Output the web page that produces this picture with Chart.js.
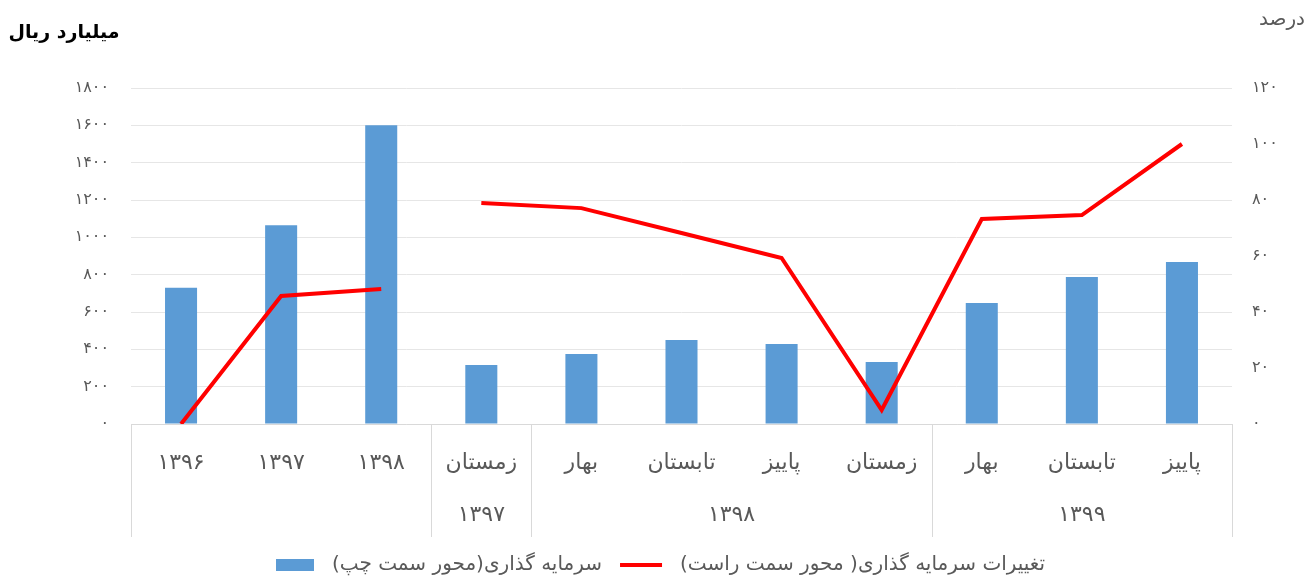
<!DOCTYPE html>
<html>
<head>
<meta charset="utf-8">
<script src="https://cdn.jsdelivr.net/npm/chart.js@4/dist/chart.umd.min.js"></script>
<style>
html,body{margin:0;padding:0;background:#fff;}
#wrap{width:1309px;height:579px;position:relative;}
</style>
</head>
<body>
<div id="wrap"><canvas id="c" width="1309" height="579"></canvas></div>
<script>
// ---- data ----
const categories = ['۱۳۹۶','۱۳۹۷','۱۳۹۸','زمستان','بهار','تابستان','پاییز','زمستان','بهار','تابستان','پاییز'];
const groupLabels = ['', '۱۳۹۷', '۱۳۹۸', '۱۳۹۹'];
const groupStarts = [0, 3, 4, 8];
const groupEnds = [2, 3, 7, 10];
const investment = [730, 1065, 1600, 316, 375, 450, 428, 332, 648, 787, 868];
const investmentChange = [0, 45.7, 48.2, 78.9, 77.1, 68.2, 59.3, 5, 73.2, 74.6, 100];
const leftTicks = [0, 200, 400, 600, 800, 1000, 1200, 1400, 1600, 1800];
const rightTicks = [0, 20, 40, 60, 80, 100, 120];
const barLabel = 'سرمایه گذاری(محور سمت چپ)';
const lineLabel = 'تغییرات سرمایه گذاری( محور سمت راست)';
const leftTitle = 'میلیارد ریال';
const rightTitle = 'درصد';

const FONT = "'DejaVu Sans', sans-serif";
const GRAY = '#595959';
const BLUE = '#5B9BD5';
const RED = '#FF0000';
const fa = n => String(n).replace(/[0-9]/g, d => '۰۱۲۳۴۵۶۷۸۹'[d]);

const extras = {
  id: 'extras',
  afterDraw(chart) {
    const ctx = chart.ctx;
    const x = chart.scales.x;
    const area = chart.chartArea;
    const half = (x.getPixelForValue(1) - x.getPixelForValue(0)) / 2;
    const bottom = x.bottom;
    ctx.save();
    // category group separators
    ctx.strokeStyle = '#D9D9D9';
    ctx.lineWidth = 1;
    const bounds = [groupStarts[0]].concat(groupEnds.map(e => e + 1));
    bounds.forEach(i => {
      const px = Math.round(x.getPixelForValue(i) - half) + 0.5;
      ctx.beginPath();
      ctx.moveTo(px, area.bottom);
      ctx.lineTo(px, bottom);
      ctx.stroke();
    });
    // group labels (second row)
    ctx.fillStyle = GRAY;
    ctx.font = '22px ' + FONT;
    ctx.textAlign = 'center';
    ctx.textBaseline = 'middle';
    groupLabels.forEach((g, k) => {
      if (!g) return;
      const cx = (x.getPixelForValue(groupStarts[k]) + x.getPixelForValue(groupEnds[k])) / 2;
      ctx.fillText(g, cx, area.bottom + 91);
    });
    // axis titles
    ctx.fillStyle = '#000';
    ctx.font = 'bold 19px ' + FONT;
    ctx.fillText(leftTitle, 64, 33);
    ctx.fillStyle = GRAY;
    ctx.font = '20px ' + FONT;
    ctx.fillText(rightTitle, 1282, 20);
    // legend
    ctx.font = '20px ' + FONT;
    ctx.direction = 'rtl';
    const w1 = ctx.measureText(barLabel).width;
    const w2 = ctx.measureText(lineLabel).width;
    const gap = 18, boxW = 38, lineW = 42;
    const total = boxW + gap + w1 + gap + lineW + gap + w2;
    let lx = Math.round(661 - total / 2);
    const ly = 565;
    ctx.fillStyle = BLUE;
    ctx.fillRect(lx, ly - 6, boxW, 12);
    lx += boxW + gap;
    ctx.fillStyle = GRAY;
    ctx.textAlign = 'left';
    ctx.fillText(barLabel, lx, ly);
    lx += w1 + gap;
    ctx.strokeStyle = RED;
    ctx.lineWidth = 4;
    ctx.beginPath();
    ctx.moveTo(lx, ly);
    ctx.lineTo(lx + lineW, ly);
    ctx.stroke();
    lx += lineW + gap;
    ctx.fillText(lineLabel, lx, ly);
    ctx.restore();
  }
};

new Chart(document.getElementById('c'), {
  type: 'bar',
  data: {
    labels: categories,
    datasets: [
      {
        type: 'bar',
        label: barLabel,
        data: investment,
        backgroundColor: BLUE,
        borderWidth: 0,
        barPercentage: 0.64,
        categoryPercentage: 0.5,
        yAxisID: 'y',
        order: 2
      },
      {
        type: 'line',
        label: lineLabel,
        data: investmentChange,
        borderColor: RED,
        backgroundColor: RED,
        borderWidth: 4,
        pointRadius: 0,
        tension: 0,
        yAxisID: 'y1',
        order: 1,
        segment: {
          borderColor: c => c.p0DataIndex === 2 ? 'rgba(0,0,0,0)' : RED
        }
      }
    ]
  },
  options: {
    responsive: false,
    animation: false,
    layout: { padding: { top: 88, bottom: 42, left: 0, right: 0 } },
    plugins: {
      tooltip: { enabled: false },
      legend: { display: false }
    },
    scales: {
      x: {
        grid: { display: false, drawTicks: false },
        border: { display: true, color: '#D9D9D9' },
        ticks: { font: { family: FONT, size: 22 }, color: GRAY, padding: 26, maxRotation: 0, autoSkip: false },
        afterFit: s => { s.height = 113; }
      },
      y: {
        position: 'left',
        min: 0, max: 1800,
        afterBuildTicks: s => { s.ticks = leftTicks.map(v => ({ value: v })); },
        ticks: { font: { family: FONT, size: 16 }, color: GRAY, padding: 22, callback: v => fa(v) },
        grid: { color: '#E6E6E6', drawTicks: false },
        border: { display: false },
        afterFit: s => { s.width = 131; }
      },
      y1: {
        position: 'right',
        min: 0, max: 120,
        afterBuildTicks: s => { s.ticks = rightTicks.map(v => ({ value: v })); },
        ticks: { font: { family: FONT, size: 16 }, color: GRAY, padding: 20, callback: v => fa(v) },
        grid: { display: false, drawTicks: false },
        border: { display: false },
        afterFit: s => { s.width = 77; }
      }
    }
  },
  plugins: [extras]
});
</script>
</body>
</html>
